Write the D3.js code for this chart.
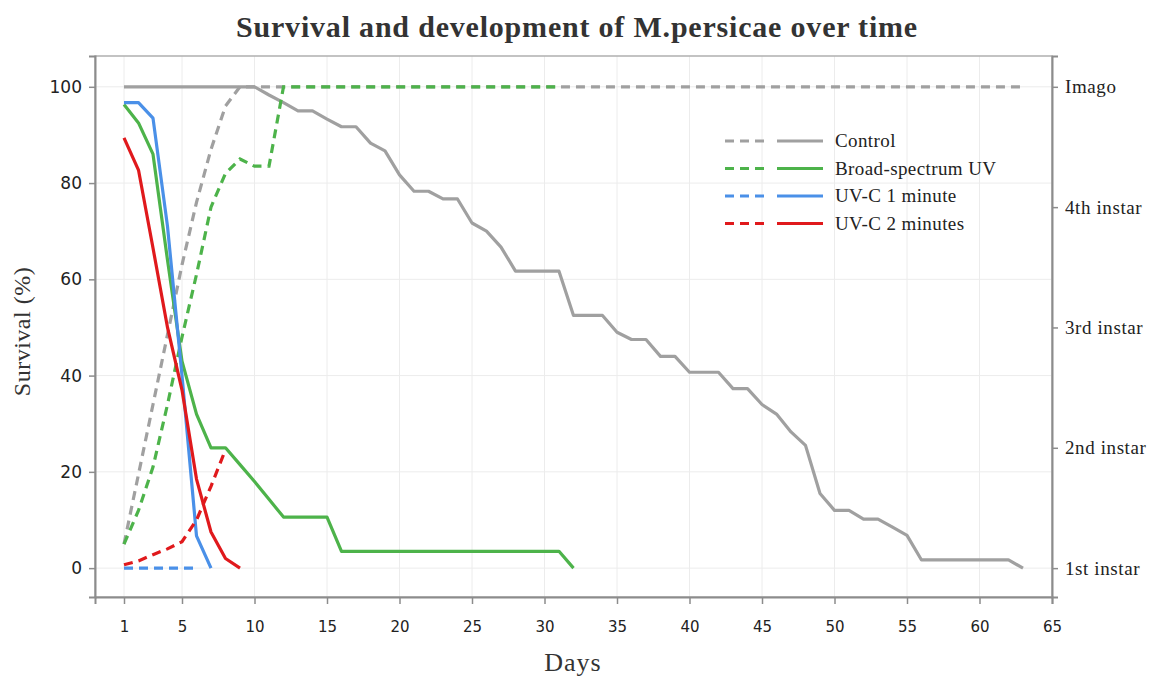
<!DOCTYPE html>
<html>
<head>
<meta charset="utf-8">
<script src="https://cdn.jsdelivr.net/npm/d3@7"></script>
<style>
  body { margin: 0; background: #fff; }
  svg { display: block; }
</style>
</head>
<body>
<svg id="chart" width="1152" height="676"></svg>
<script>
// values per day, starting at day 1
const controlSurvival = [100, 100, 100, 100, 100, 100, 100, 100, 100, 100,
  98.3, 96.7, 95, 95, 93.3, 91.7, 91.7, 88.3, 86.7, 81.7,
  78.3, 78.3, 76.7, 76.7, 71.7, 70, 66.7, 61.7, 61.7, 61.7,
  61.7, 52.5, 52.5, 52.5, 49, 47.5, 47.5, 44, 44, 40.7,
  40.7, 40.7, 37.3, 37.3, 34, 32, 28.3, 25.5, 15.5, 12,
  12, 10.2, 10.2, 8.5, 6.8, 1.7, 1.7, 1.7, 1.7, 1.7,
  1.7, 1.7, 0];
const controlStage = [5, 19.5, 34, 48.5, 63, 76, 87, 96, 100, 100,
  100, 100, 100, 100, 100, 100, 100, 100, 100, 100,
  100, 100, 100, 100, 100, 100, 100, 100, 100, 100,
  100, 100, 100, 100, 100, 100, 100, 100, 100, 100,
  100, 100, 100, 100, 100, 100, 100, 100, 100, 100,
  100, 100, 100, 100, 100, 100, 100, 100, 100, 100,
  100, 100, 100];
const broadSurvival = [96.3, 92.5, 86, 64, 43, 32, 25, 25, 21.5, 18,
  14.3, 10.6, 10.6, 10.6, 10.6, 3.5, 3.5, 3.5, 3.5, 3.5,
  3.5, 3.5, 3.5, 3.5, 3.5, 3.5, 3.5, 3.5, 3.5, 3.5,
  3.5, 0];
const broadStage = [5, 12, 21, 34, 48, 61, 75, 82, 85, 83.5,
  83.5, 100, 100, 100, 100, 100, 100, 100, 100, 100,
  100, 100, 100, 100, 100, 100, 100, 100, 100, 100,
  100];
const uvc1Survival = [96.7, 96.7, 93.5, 71, 40, 6.7, 0];
const uvc1Stage = [0, 0, 0, 0, 0, 0];
const uvc2Survival = [89.4, 82.7, 66.5, 50, 37, 18.5, 7.5, 2, 0];
const uvc2Stage = [0.7, 1.5, 2.8, 4, 5.5, 10, 17, 24.6];

const seriesNames = ["Control", "Broad-spectrum UV", "UV-C 1 minute", "UV-C 2 minutes"];
const seriesColors = ["#a0a0a0", "#4db34a", "#4a90e8", "#e0191c"];
const survivalData = [controlSurvival, broadSurvival, uvc1Survival, uvc2Survival];
const stageData = [controlStage, broadStage, uvc1Stage, uvc2Stage];

const dayTicks = [1, 5, 10, 15, 20, 25, 30, 35, 40, 45, 50, 55, 60, 65];
const survivalTicks = [0, 20, 40, 60, 80, 100];
const stageTicks = [0, 25, 50, 75, 100];
const stageLabels = ["1st instar", "2nd instar", "3rd instar", "4th instar", "Imago"];

const svg = d3.select("#chart");
const margin = { top: 56, right: 100, bottom: 79, left: 95 };
const width = 1152, height = 676;
const axisColor = "#8c8c8c";
const serif = "'Liberation Serif', 'Times New Roman', serif";
const sans = "'DejaVu Sans', sans-serif";

const x = d3.scaleLinear().domain([-1, 65]).range([margin.left, width - margin.right]);
const y = d3.scaleLinear().domain([-6, 106.4]).range([height - margin.bottom, margin.top]);

// grid
svg.append("g")
  .selectAll("line")
  .data(dayTicks)
  .join("line")
  .attr("x1", (d) => x(d)).attr("x2", (d) => x(d))
  .attr("y1", margin.top).attr("y2", height - margin.bottom)
  .attr("stroke", "#ececec").attr("stroke-width", 1);

svg.append("g")
  .selectAll("line")
  .data(survivalTicks)
  .join("line")
  .attr("x1", margin.left).attr("x2", width - margin.right)
  .attr("y1", (d) => y(d)).attr("y2", (d) => y(d))
  .attr("stroke", "#ececec").attr("stroke-width", 1);

// frame
svg.append("rect")
  .attr("x", margin.left).attr("y", margin.top)
  .attr("width", width - margin.left - margin.right)
  .attr("height", height - margin.top - margin.bottom)
  .attr("fill", "none").attr("stroke", "#b0b0b0").attr("stroke-width", 1.5);

// axes
const styleAxis = (g) => {
  g.select(".domain").attr("stroke", axisColor).attr("stroke-width", 2);
  g.selectAll(".tick line").attr("stroke", axisColor).attr("stroke-width", 1.5);
  g.selectAll(".tick text").attr("fill", "#222");
};

svg.append("g")
  .attr("transform", `translate(0,${height - margin.bottom})`)
  .call(d3.axisBottom(x).tickValues(dayTicks).tickSizeOuter(0).tickSize(7).tickPadding(17))
  .call(styleAxis)
  .call((g) => g.selectAll(".tick text").style("font-family", sans).style("font-size", "15px"));

svg.append("g")
  .attr("transform", `translate(${margin.left},0)`)
  .call(d3.axisLeft(y).tickValues(survivalTicks).tickSizeOuter(0).tickSize(6).tickPadding(7))
  .call(styleAxis)
  .call((g) => g.selectAll(".tick text").style("font-family", sans).style("font-size", "17px"));

svg.append("g")
  .attr("transform", `translate(${width - margin.right},0)`)
  .call(d3.axisRight(y).tickValues(stageTicks).tickFormat((d, i) => stageLabels[i])
    .tickSizeOuter(0).tickSize(6).tickPadding(7))
  .call(styleAxis)
  .call((g) => g.selectAll(".tick text")
    .style("font-family", serif).style("font-size", "19px").style("letter-spacing", "0.6px"));

// lines
const line = d3.line().x((d, i) => x(i + 1)).y((d) => y(d));
const dash = "9,6";

const plot = svg.append("g");
survivalData.forEach((values, k) => {
  plot.append("path")
    .datum(values)
    .attr("d", line)
    .attr("fill", "none")
    .attr("stroke", seriesColors[k])
    .attr("stroke-width", 3.2)
    .attr("stroke-linejoin", "round");
  plot.append("path")
    .datum(stageData[k])
    .attr("d", line)
    .attr("fill", "none")
    .attr("stroke", seriesColors[k])
    .attr("stroke-width", 3.2)
    .attr("stroke-dasharray", dash);
});

// legend
const legend = svg.append("g").attr("transform", "translate(725,141)");
seriesNames.forEach((name, k) => {
  const row = legend.append("g").attr("transform", `translate(0,${k * 27.5})`);
  row.append("line")
    .attr("x1", 0).attr("x2", 40).attr("y1", 0).attr("y2", 0)
    .attr("stroke", seriesColors[k]).attr("stroke-width", 3)
    .attr("stroke-dasharray", dash);
  row.append("line")
    .attr("x1", 52).attr("x2", 98).attr("y1", 0).attr("y2", 0)
    .attr("stroke", seriesColors[k]).attr("stroke-width", 3);
  row.append("text")
    .attr("x", 110).attr("y", 6)
    .style("font-family", serif).style("font-size", "19px").style("letter-spacing", "0.4px")
    .attr("fill", "#222")
    .text(name);
});

// titles
svg.append("text")
  .attr("x", 577).attr("y", 37)
  .attr("text-anchor", "middle")
  .style("font-family", serif).style("font-size", "30px").style("font-weight", "bold")
  .style("letter-spacing", "0.8px")
  .attr("fill", "#333")
  .text("Survival and development of M.persicae over time");

svg.append("text")
  .attr("transform", `translate(30,${(margin.top + height - margin.bottom) / 2 + 5}) rotate(-90)`)
  .attr("text-anchor", "middle")
  .style("font-family", serif).style("font-size", "24px").style("letter-spacing", "0.5px")
  .attr("fill", "#333")
  .text("Survival (%)");

svg.append("text")
  .attr("x", 573).attr("y", 671)
  .attr("text-anchor", "middle")
  .style("font-family", serif).style("font-size", "26px").style("letter-spacing", "1px")
  .attr("fill", "#333")
  .text("Days");
</script>
</body>
</html>
